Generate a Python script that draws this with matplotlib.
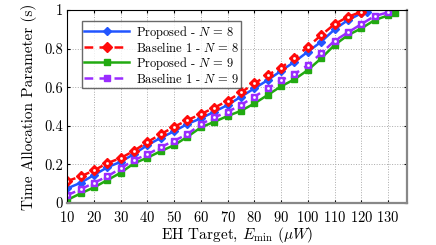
import numpy as np
import matplotlib.pyplot as plt

plt.rcParams['font.family'] = ['cmr10', 'DejaVu Serif']
plt.rcParams['mathtext.fontset'] = 'cm'
plt.rcParams['axes.formatter.use_mathtext'] = True

# EH target values (uW)
x_prop8 = [10, 15, 20, 25, 30, 35, 40, 45, 50, 55, 60, 65, 70, 75, 80, 85, 90, 95, 100, 105, 110, 115, 120, 122.3]
y_prop8 = [0.076, 0.105, 0.145, 0.185, 0.214, 0.254, 0.300, 0.338, 0.372, 0.410, 0.439, 0.473, 0.508, 0.551,
           0.594, 0.637, 0.685, 0.732, 0.784, 0.836, 0.900, 0.948, 0.983, 0.988]

x_base8 = [10, 15, 20, 25, 30, 35, 40, 45, 50, 55, 60, 65, 70, 75, 80, 85, 90, 95, 100, 105, 110, 115, 120]
y_base8 = [0.114, 0.138, 0.169, 0.207, 0.233, 0.271, 0.316, 0.357, 0.395, 0.430, 0.461, 0.494, 0.530, 0.573,
           0.620, 0.663, 0.702, 0.750, 0.810, 0.870, 0.927, 0.965, 0.991]

x_prop9 = [10, 15, 20, 25, 30, 35, 40, 45, 50, 55, 60, 65, 70, 75, 80, 85, 90, 95, 100, 105, 110, 115, 120,
           125, 130, 132.7]
y_prop9 = [0.016, 0.050, 0.081, 0.119, 0.157, 0.206, 0.235, 0.269, 0.300, 0.344, 0.392, 0.421, 0.451, 0.478,
           0.516, 0.560, 0.605, 0.641, 0.689, 0.750, 0.819, 0.870, 0.905, 0.948, 0.972, 0.983]

x_base9 = [10, 15, 20, 25, 30, 35, 40, 45, 50, 55, 60, 65, 70, 75, 80, 85, 90, 95, 100, 105, 110, 115, 120,
           125, 130]
y_base9 = [0.041, 0.071, 0.105, 0.138, 0.180, 0.223, 0.252, 0.290, 0.323, 0.357, 0.409, 0.444, 0.473, 0.508,
           0.551, 0.594, 0.637, 0.668, 0.715, 0.776, 0.841, 0.884, 0.927, 0.969, 0.988]

x_ticks = [10, 20, 30, 40, 50, 60, 70, 80, 90, 100, 110, 120, 130]
y_ticks = [0, 0.2, 0.4, 0.6, 0.8, 1]
y_ticklabels = ['0', '0.2', '0.4', '0.6', '0.8', '1']

fig = plt.figure(figsize=(4.36, 2.45), dpi=100)
ax = fig.add_axes([0.154, 0.171, 0.779, 0.788])

blue = '#2255ff'
red = '#ff0a0a'
green = '#22aa11'
purple = '#9a2cff'

ax.plot(x_prop8, y_prop8, '-', color=blue, lw=1.8, marker='D', ms=4.5, label=r'Proposed - $N\,=\,8$')
ax.plot(x_base8, y_base8, '--', color=red, lw=1.8, marker='D', ms=5.5, dashes=(3.5, 2.5),
        label=r'Baseline 1 - $N\,=\,8$')
ax.plot(x_prop9, y_prop9, '-', color=green, lw=1.8, marker='s', ms=4.5, label=r'Proposed - $N\,=\,9$')
ax.plot(x_base9, y_base9, '--', color=purple, lw=1.8, marker='s', ms=5, dashes=(3.5, 2.5),
        label=r'Baseline 1 - $N\,=\,9$')
# small white centres on the baseline markers
ax.plot(x_base8, y_base8, 's', color='white', ms=0.9, ls='none')
ax.plot(x_base9, y_base9, 's', color='white', ms=0.9, ls='none')

ax.set_xlim(10, 137)
ax.set_ylim(0, 1)
ax.set_xticks(x_ticks)
ax.set_yticks(y_ticks)
ax.set_yticklabels(y_ticklabels)
ax.tick_params(direction='in', top=True, right=True, labelsize=10.5, length=2.5)
ax.tick_params(axis='x', pad=5)
ax.tick_params(axis='y', pad=3)
ax.grid(True, linestyle=':', color='#aaaaaa', linewidth=0.7)

ax.spines['left'].set_linewidth(0.8)
ax.spines['top'].set_linewidth(0.8)
ax.spines['bottom'].set_color('#888888')
ax.spines['bottom'].set_linewidth(1.6)
ax.spines['right'].set_color('#888888')
ax.spines['right'].set_linewidth(1.6)

ax.set_xlabel(r'EH Target, $E_{\min}$ $(\mu W)$', fontsize=11, labelpad=0)
ax.set_ylabel('Time Allocation Parameter (s)', fontsize=11, labelpad=5)

leg = ax.legend(loc='upper left', fontsize=9, frameon=True, fancybox=False, borderpad=0.2,
                labelspacing=0.0, handlelength=3.6, handletextpad=0.5, bbox_to_anchor=(0.025, 0.975))
leg.get_frame().set_edgecolor('#444444')
leg.get_frame().set_linewidth(1.0)

plt.savefig('out.png', dpi=100)
